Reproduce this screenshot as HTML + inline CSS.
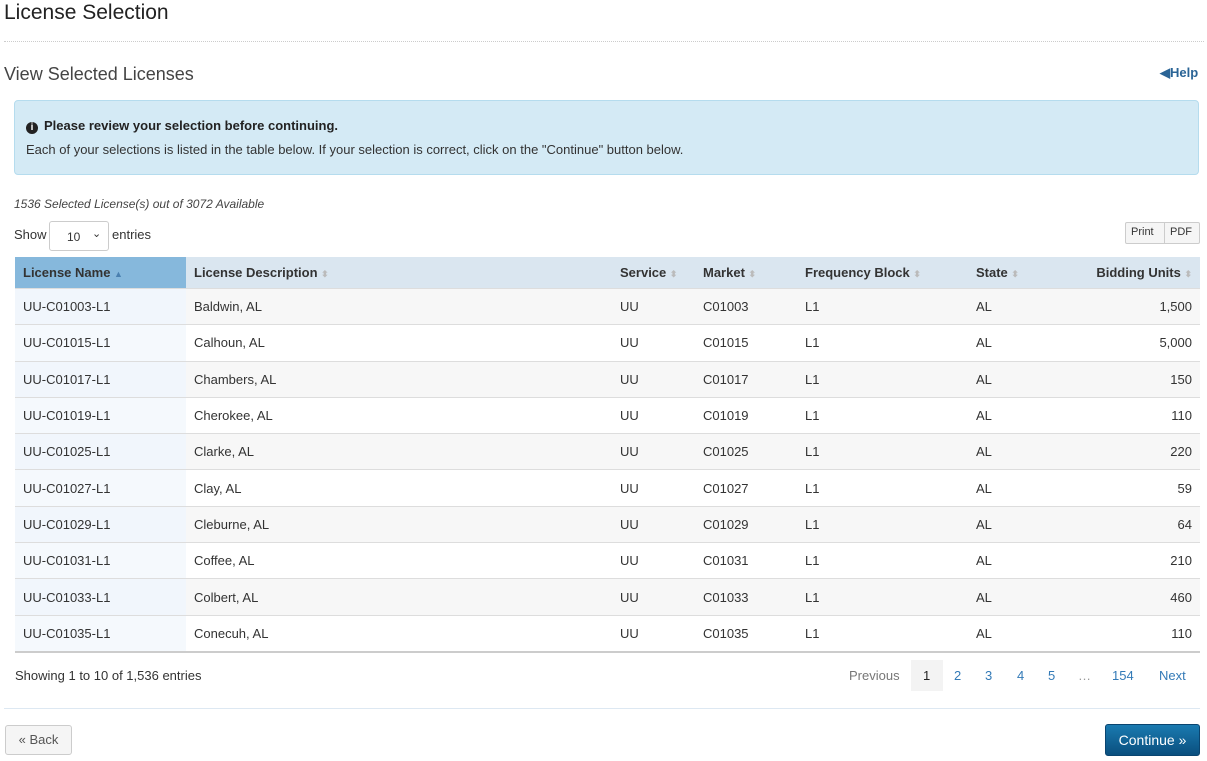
<!DOCTYPE html>
<html><head><style>
body{margin:0;width:1207px;height:761px;background:#fff;font-family:"Liberation Sans",sans-serif;color:#333;position:relative;overflow:hidden}
.a{position:absolute;white-space:nowrap}
table{position:absolute;left:15px;top:257px;width:1185px;border-collapse:collapse;font-size:13px}
th{height:31px;background:#dae6f0;text-align:left;padding:0 8px;font-weight:bold;color:#333;font-size:13px}
th.s{background:#86b8dc}
td{height:35.3px;padding:0 8px;border-top:1px solid #ddd;color:#333}
tr:nth-child(odd) td{background:#f7f7f7}
tr td:first-child{background:#f1f6fc!important}
tr:nth-child(even) td:first-child{background:#f5f9fd!important}
tbody tr:last-child td{border-bottom:2px solid #ccc}
.r{text-align:right}
.ar{color:#bbb;font-size:9px}
.pg{color:#337ab7}
</style></head><body>
<div class="a" style="left:4px;top:1px;font-size:21px;color:#222">License Selection</div>
<div class="a" style="left:4px;top:41px;width:1200px;border-top:1px dotted #ccc"></div>
<div class="a" style="left:4px;top:64px;font-size:18px;color:#444">View Selected Licenses</div>
<div class="a" style="left:1160px;top:65px;font-size:13px;font-weight:bold;color:#2a6496">◀Help</div>
<div class="a" style="left:14px;top:100px;width:1183px;height:73px;background:#d4eaf5;border:1px solid #b5dcee;border-radius:4px"></div>
<div class="a" style="left:26px;top:118px;font-size:13px;font-weight:bold;color:#222"><span style="display:inline-block;width:12px;height:12px;border-radius:50%;background:#222;color:#fff;font-size:10px;text-align:center;line-height:12px;margin-right:6px">i</span>Please review your selection before continuing.</div>
<div class="a" style="left:26px;top:142px;font-size:13px;color:#333">Each of your selections is listed in the table below. If your selection is correct, click on the "Continue" button below.</div>
<div class="a" style="left:14px;top:197px;font-size:12px;font-style:italic;color:#444">1536 Selected License(s) out of 3072 Available</div>
<div class="a" style="left:14px;top:227px;font-size:13px">Show</div>
<div class="a" style="left:49px;top:221px;width:58px;height:28px;border:1px solid #ccc;border-radius:3px;font-size:12px"><span style="position:absolute;left:17px;top:8px">10</span><span style="position:absolute;left:42px;top:5px;font-size:11px">⌄</span></div>
<div class="a" style="left:112px;top:227px;font-size:13px">entries</div>
<div class="a" style="left:1125px;top:222px;width:73px;height:20px;border:1px solid #ccc;border-radius:2px;background:#f5f5f5;font-size:11px"><span style="position:absolute;left:5px;top:3px">Print</span><span style="position:absolute;left:38px;top:0;height:20px;border-left:1px solid #ccc"></span><span style="position:absolute;left:44px;top:3px">PDF</span></div>
<table>
<thead><tr><th class="s" style="width:155px">License Name <span style="color:#4a80b0;font-size:9px">▲</span></th><th style="width:410px">License Description <span class="ar">⬍</span></th><th style="width:67px">Service <span class="ar">⬍</span></th><th style="width:86px">Market <span class="ar">⬍</span></th><th style="width:155px">Frequency Block <span class="ar">⬍</span></th><th style="width:80px">State <span class="ar">⬍</span></th><th class="r">Bidding Units <span class="ar">⬍</span></th></tr></thead>
<tbody>
<tr><td>UU-C01003-L1</td><td>Baldwin, AL</td><td>UU</td><td>C01003</td><td>L1</td><td>AL</td><td class="r">1,500</td></tr>
<tr><td>UU-C01015-L1</td><td>Calhoun, AL</td><td>UU</td><td>C01015</td><td>L1</td><td>AL</td><td class="r">5,000</td></tr>
<tr><td>UU-C01017-L1</td><td>Chambers, AL</td><td>UU</td><td>C01017</td><td>L1</td><td>AL</td><td class="r">150</td></tr>
<tr><td>UU-C01019-L1</td><td>Cherokee, AL</td><td>UU</td><td>C01019</td><td>L1</td><td>AL</td><td class="r">110</td></tr>
<tr><td>UU-C01025-L1</td><td>Clarke, AL</td><td>UU</td><td>C01025</td><td>L1</td><td>AL</td><td class="r">220</td></tr>
<tr><td>UU-C01027-L1</td><td>Clay, AL</td><td>UU</td><td>C01027</td><td>L1</td><td>AL</td><td class="r">59</td></tr>
<tr><td>UU-C01029-L1</td><td>Cleburne, AL</td><td>UU</td><td>C01029</td><td>L1</td><td>AL</td><td class="r">64</td></tr>
<tr><td>UU-C01031-L1</td><td>Coffee, AL</td><td>UU</td><td>C01031</td><td>L1</td><td>AL</td><td class="r">210</td></tr>
<tr><td>UU-C01033-L1</td><td>Colbert, AL</td><td>UU</td><td>C01033</td><td>L1</td><td>AL</td><td class="r">460</td></tr>
<tr><td>UU-C01035-L1</td><td>Conecuh, AL</td><td>UU</td><td>C01035</td><td>L1</td><td>AL</td><td class="r">110</td></tr>
</tbody></table>
<div class="a" style="left:15px;top:668px;font-size:13px">Showing 1 to 10 of 1,536 entries</div>
<div class="a" style="left:911px;top:660px;width:32px;height:31px;background:#f3f3f3"></div>
<div class="a" style="left:849px;top:668px;font-size:13px;color:#777">Previous</div>
<div class="a" style="left:923px;top:668px;font-size:13px;color:#222">1</div>
<div class="a pg" style="left:954px;top:668px;font-size:13px">2</div>
<div class="a pg" style="left:985px;top:668px;font-size:13px">3</div>
<div class="a pg" style="left:1017px;top:668px;font-size:13px">4</div>
<div class="a pg" style="left:1048px;top:668px;font-size:13px">5</div>
<div class="a" style="left:1078px;top:668px;font-size:13px;color:#999">…</div>
<div class="a pg" style="left:1112px;top:668px;font-size:13px">154</div>
<div class="a pg" style="left:1159px;top:668px;font-size:13px">Next</div>
<div class="a" style="left:4px;top:708px;width:1196px;border-top:1px solid #dde8f2"></div>
<div class="a" style="left:5px;top:725px;width:65px;height:28px;border:1px solid #ccc;border-radius:3px;background:#f5f5f5;font-size:13px;text-align:center;line-height:28px;color:#555">« Back</div>
<div class="a" style="left:1105px;top:724px;width:93px;height:30px;border-radius:3px;background:linear-gradient(#1a7ab0,#0a4f7e);border:1px solid #0a4570;font-size:14px;text-align:center;line-height:30px;color:#fff">Continue »</div>
</body></html>
